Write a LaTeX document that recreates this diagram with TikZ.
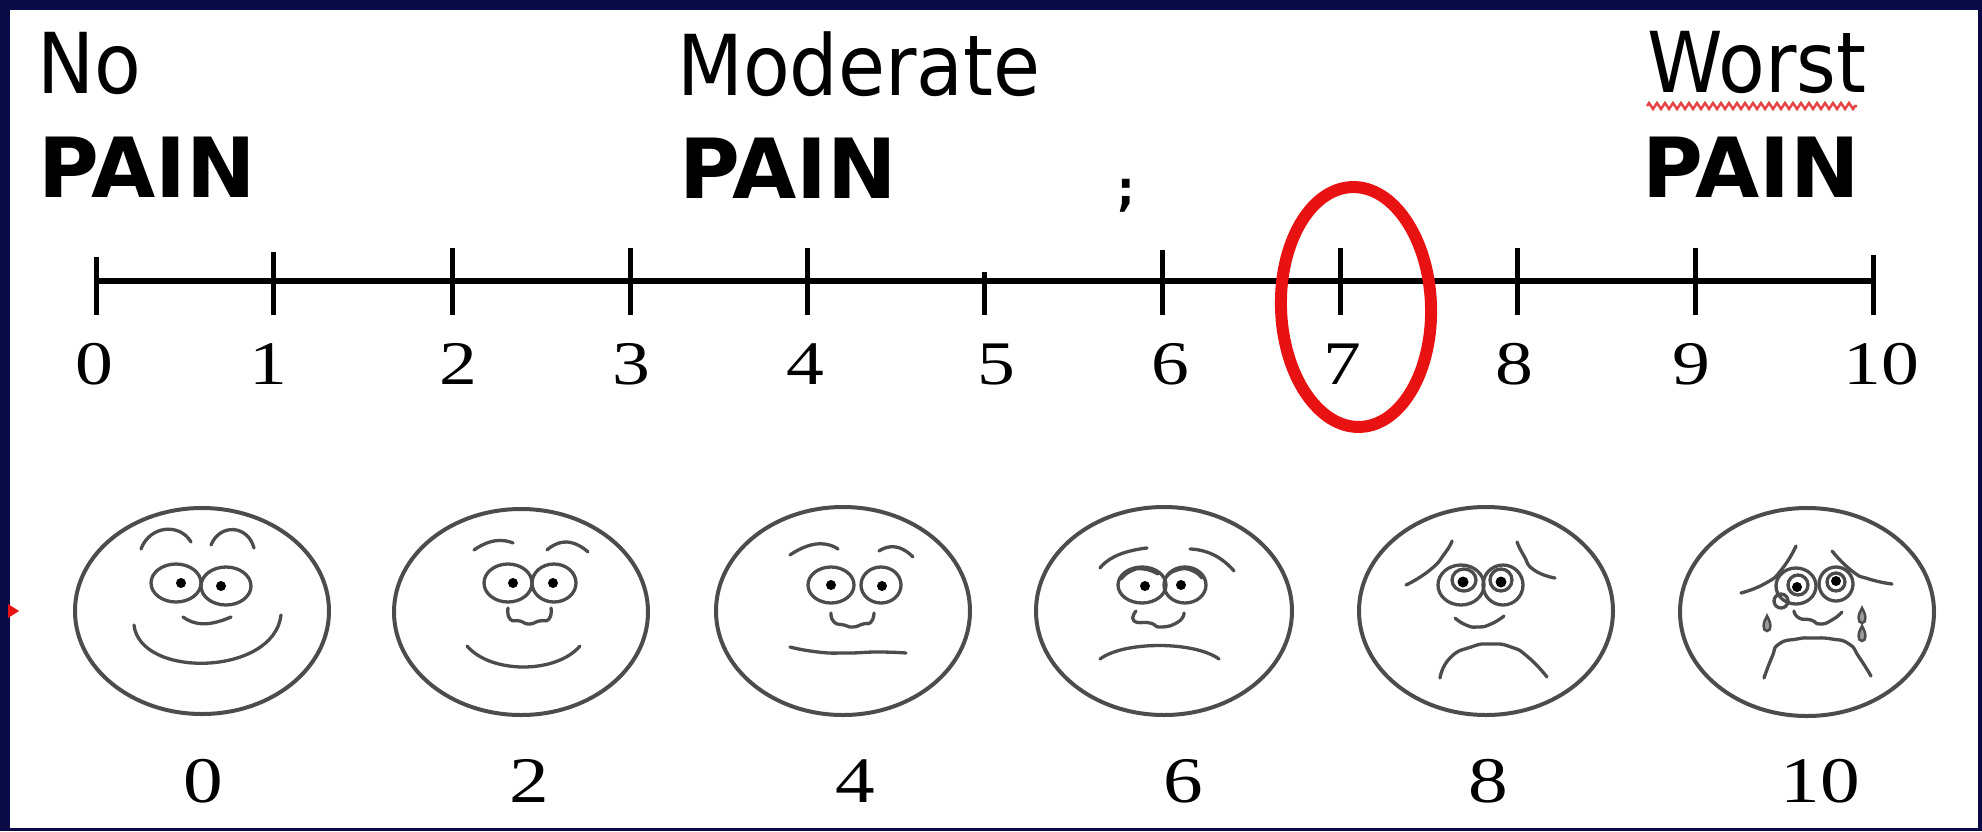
\documentclass[tikz,border=0pt]{standalone}
\usepackage{fontspec}
\usetikzlibrary{decorations.pathmorphing}

\newfontfamily\headfont[FakeStretch=0.91]{DejaVu Sans}
\newfontfamily\painfont{DejaVu Sans}
\newfontfamily\numfont[FakeStretch=1.22]{Liberation Serif}

\definecolor{slideblue}{RGB}{10,10,70}
\definecolor{facegray}{RGB}{76,76,76}
\definecolor{ringred}{RGB}{232,18,18}
\definecolor{spellred}{RGB}{228,70,70}

\newcommand{\teardrop}[1]{%
  \draw[feat, line width=2.5pt, fill=facegray!55] #1 ++(0,-8) .. controls +(4,6) and +(5,0) .. ++(0,15)
    .. controls +(-5,0) and +(-4,6) .. ++(0,-15) -- cycle;}

\begin{document}
\begin{tikzpicture}[x=1pt, y=-1pt,
  scaletick/.style={line width=5pt},
  axisnum/.style={anchor=base, inner sep=0, font=\numfont\fontsize{62}{64}\selectfont},
  facenum/.style={anchor=base, inner sep=0, font=\numfont\fontsize{65}{68}\selectfont},
  head/.style={anchor=base west, inner sep=0, font=\headfont\fontsize{84}{90}\selectfont},
  pain/.style={anchor=base west, inner sep=0, font=\painfont\bfseries\fontsize{83}{90}\selectfont},
  face/.style={draw=facegray, line width=4pt},
  feat/.style={draw=facegray, line width=3.3pt, line cap=round},
  curve/.style={feat, smooth, tension=1}]

  \useasboundingbox (0,0) rectangle (1982,831);

  % slide frame
  \fill[slideblue] (0,0) rectangle (1982,831);
  \fill[white] (10,10) rectangle (1978,828);
  \fill[ringred] (8,604) -- (19,611) -- (8,618) -- cycle;

  % headings
  \node[head] (no) at (37,93) {No};
  \node[pain] (nopain) at (38,197) {PAIN};
  \node[head] (moderate) at (677,95) {Moderate};
  \node[pain] (modpain) at (679,198) {PAIN};
  \node[head] (worst) at (1647,92) {Worst};
  \node[pain] (worstpain) at (1642,197) {PAIN};
  \node[anchor=base, inner sep=0, font=\headfont\bfseries\fontsize{48}{50}\selectfont] (semi) at (1126,205) {;};

  % squiggle under Worst
  \draw[spellred, line width=2.5pt, decorate,
        decoration={zigzag, amplitude=3pt, segment length=8pt}] (1647,106) -- (1857,106);

  % the scale
  \coordinate (A0) at (96,281);
  \coordinate (A10) at (1873,281);
  \draw[line width=5.5pt] (A0) -- (A10);

  \draw[scaletick] (96,257) -- (96,315);
  \draw[scaletick] (273,252) -- (273,315);
  \draw[scaletick] (452,248) -- (452,315);
  \draw[scaletick] (630,248) -- (630,315);
  \draw[scaletick] (807,248) -- (807,315);
  \draw[scaletick] (984,272) -- (984,315);
  \draw[scaletick] (1162,250) -- (1162,315);
  \draw[scaletick] (1340,248) -- (1340,315);
  \draw[scaletick] (1517,248) -- (1517,315);
  \draw[scaletick] (1695,248) -- (1695,315);
  \draw[scaletick] (1873,255) -- (1873,315);

  \node[axisnum] (t0) at (94,384) {0};
  \node[axisnum] (t1) at (268,384) {1};
  \node[axisnum] (t2) at (458,384) {2};
  \node[axisnum] (t3) at (631,384) {3};
  \node[axisnum] (t4) at (805,384) {4};
  \node[axisnum] (t5) at (996,384) {5};
  \node[axisnum] (t6) at (1170,384) {6};
  \node[axisnum] (t7) at (1342,384) {7};
  \node[axisnum] (t8) at (1514,384) {8};
  \node[axisnum] (t9) at (1691,384) {9};
  \node[axisnum] (t10) at (1881,384) {10};

  % red ring round 7
  \draw[ringred, line width=12pt] (1356,307) ellipse [x radius=75, y radius=120, rotate=2];

  % face 0
  \begin{scope}[shift={(202,611)}]
    \draw[face] (0,0) ellipse [x radius=127, y radius=103];
    \draw[feat] (-61,-62) .. controls (-52,-86) and (-22,-88) .. (-11,-69);
    \draw[feat] (9,-66) .. controls (18,-88) and (46,-86) .. (52,-63);
    \draw[feat] (-26,-28) ellipse [x radius=25, y radius=19];
    \draw[feat] (24,-25) ellipse [x radius=25, y radius=19];
    \fill (-21,-28) circle [radius=5];
    \fill (19,-25) circle [radius=5];
    \draw[feat] (-19,6) .. controls (-8,14) and (6,16) .. (29,6);
    \draw[feat] (-68,14) .. controls (-62,68) and (72,65) .. (79,4);
  \end{scope}
  \node[facenum] (f0) at (203,802) {0};

  % face 2
  \begin{scope}[shift={(521,612)}]
    \draw[face] (0,0) ellipse [x radius=127, y radius=103];
    \draw[feat] plot[curve] coordinates {(-47,-62) (-27,-71) (-8,-69)};
    \draw[feat] plot[curve] coordinates {(26,-62) (46,-70) (67,-60)};
    \draw[feat] (-13,-29) ellipse [x radius=24, y radius=19];
    \draw[feat] (33,-29) ellipse [x radius=22, y radius=19];
    \fill (-8,-29) circle [radius=5];
    \fill (32,-29) circle [radius=5];
    \draw[feat] plot[curve] coordinates {(-13,-4) (-11,7) (-1,9) (8,12) (18,9) (28,7) (30,-4)};
    \draw[feat] (-54,34) .. controls (-30,62) and (35,62) .. (59,34);
  \end{scope}
  \node[facenum] (f2) at (529,802) {2};

  % face 4
  \begin{scope}[shift={(843,611)}]
    \draw[face] (0,0) ellipse [x radius=127, y radius=104];
    \draw[feat] plot[curve] coordinates {(-53,-56) (-27,-67) (-5,-62)};
    \draw[feat] plot[curve] coordinates {(36,-60) (53,-64) (70,-54)};
    \draw[feat] (-12,-26) ellipse [x radius=23, y radius=18];
    \draw[feat] (38,-26) ellipse [x radius=20, y radius=18];
    \fill (-12,-26) circle [radius=5];
    \fill (39,-25) circle [radius=5];
    \draw[feat] plot[curve] coordinates {(-12,2) (-9,11) (1,14) (10,16) (20,13) (28,11) (31,2)};
    \draw[feat] plot[curve] coordinates {(-53,36) (-25,41) (4,42) (35,41) (63,42)};
  \end{scope}
  \node[facenum] (f4) at (855,802) {4};

  % face 6
  \begin{scope}[shift={(1164,611)}]
    \draw[face] (0,0) ellipse [x radius=128, y radius=104];
    \draw[feat] plot[curve] coordinates {(-64,-43) (-46,-56) (-17,-63)};
    \draw[feat] plot[curve] coordinates {(26,-62) (50,-56) (70,-40)};
    \draw[feat] (-22,-26) ellipse [x radius=24, y radius=18];
    \draw[feat] (21,-26) ellipse [x radius=21, y radius=18];
    \draw[feat] plot[curve] coordinates {(-43,-32) (-33,-40) (-20,-42) (-6,-37)};
    \draw[feat] plot[curve] coordinates {(3,-35) (13,-41) (27,-41) (38,-33)};
    \fill (-19,-25) circle [radius=5];
    \fill (17,-26) circle [radius=5];
    \draw[feat] plot[curve] coordinates {(-28,0) (-30,10) (-14,12) (-3,16) (14,11) (20,2)};
    \draw[feat] (-64,48) .. controls (-40,30) and (30,30) .. (55,48);
  \end{scope}
  \node[facenum] (f6) at (1183,802) {6};

  % face 8
  \begin{scope}[shift={(1486,611)}]
    \draw[face] (0,0) ellipse [x radius=127, y radius=104];
    \draw[feat] plot[curve] coordinates {(-80,-26) (-56,-41) (-41,-58) (-34,-70)};
    \draw[feat] plot[curve] coordinates {(31,-69) (38,-55) (48,-41) (69,-33)};
    \draw[feat] (-25,-26) ellipse [x radius=23, y radius=20];
    \draw[feat] (17,-26) ellipse [x radius=20, y radius=20];
    \draw[feat] (-22,-31) ellipse [x radius=12, y radius=11];
    \draw[feat] (15,-31) ellipse [x radius=11, y radius=11];
    \fill (-23,-29) circle [radius=5.5];
    \fill (15,-29) circle [radius=5.5];
    \draw[feat] plot[curve] coordinates {(-31,7) (-20,14) (-8,16) (5,13) (18,5)};
    \draw[feat] plot[curve] coordinates {(-46,67) (-36,47) (-15,36) (5,33) (25,36) (42,46) (61,66)};
  \end{scope}
  \node[facenum] (f8) at (1488,802) {8};

  % face 10
  \begin{scope}[shift={(1807,612)}]
    \draw[face] (0,0) ellipse [x radius=127, y radius=104];
    \draw[feat] plot[curve] coordinates {(-66,-19) (-41,-29) (-25,-43) (-11,-66)};
    \draw[feat] plot[curve] coordinates {(25,-61) (45,-41) (62,-33) (85,-28)};
    \draw[feat] (-11,-26) ellipse [x radius=20, y radius=18];
    \draw[feat] (29,-28) ellipse [x radius=17, y radius=17];
    \draw[feat] (-9,-27) ellipse [x radius=10, y radius=10];
    \draw[feat] (29,-30) ellipse [x radius=9, y radius=9];
    \fill (-10,-25) circle [radius=5];
    \fill (29,-31) circle [radius=5];
    \draw[feat] (-26,-11) ellipse [x radius=7, y radius=7];
    \teardrop{(-40,12)}
    \teardrop{(55,4)}
    \teardrop{(55,22)}
    \draw[feat] plot[curve] coordinates {(-13,-1) (-8,6) (4,8) (13,12) (25,8) (35,0)};
    \draw[feat] plot[curve] coordinates {(-43,66) (-35,45) (-28,32) (-10,27) (5,26) (25,27) (42,32) (52,45) (64,64)};
  \end{scope}
  \node[facenum] (f10) at (1820,802) {10};

\end{tikzpicture}
\end{document}
